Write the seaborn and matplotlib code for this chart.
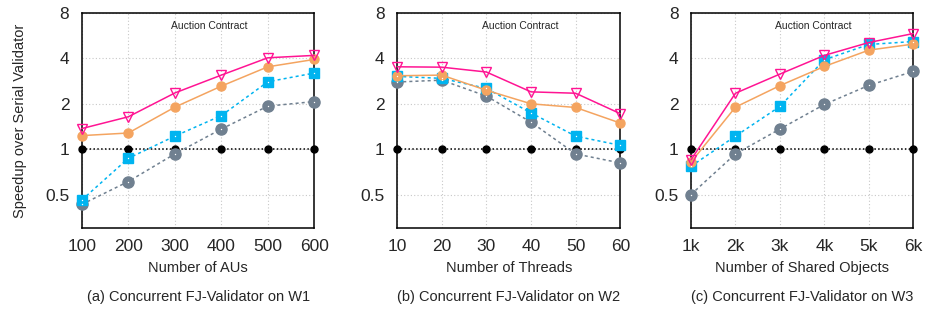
import matplotlib
matplotlib.use("Agg")
import matplotlib.pyplot as plt
import seaborn as sns
import pandas as pd
from matplotlib.ticker import FixedLocator, NullLocator

# x categories of each panel
x_w1 = [100, 200, 300, 400, 500, 600]
x_w2 = [10, 20, 30, 40, 50, 60]
x_w3 = [1, 2, 3, 4, 5, 6]
x_w3_labels = ["1k", "2k", "3k", "4k", "5k", "6k"]

# speedup values (log2 y axis)
pink_w1 = [1.37, 1.64, 2.36, 3.10, 4.04, 4.19]
orange_w1 = [1.23, 1.28, 1.90, 2.62, 3.52, 3.94]
blue_w1 = [0.46, 0.87, 1.22, 1.67, 2.80, 3.20]
gray_w1 = [0.43, 0.61, 0.93, 1.36, 1.93, 2.07]

pink_w2 = [3.52, 3.50, 3.25, 2.40, 2.35, 1.72]
orange_w2 = [3.07, 3.10, 2.46, 2.00, 1.89, 1.49]
blue_w2 = [3.04, 2.95, 2.53, 1.74, 1.22, 1.06]
gray_w2 = [2.79, 2.87, 2.25, 1.51, 0.93, 0.81]

pink_w3 = [0.85, 2.35, 3.15, 4.19, 5.10, 5.85]
orange_w3 = [0.82, 1.90, 2.64, 3.54, 4.54, 4.98]
blue_w3 = [0.77, 1.22, 1.92, 3.92, 4.95, 5.18]
gray_w3 = [0.50, 0.93, 1.36, 1.98, 2.65, 3.28]

serial = [1, 1, 1, 1, 1, 1]

sns.set_style("white")
plt.rcParams['font.family'] = ['Liberation Sans', 'DejaVu Sans']

fig = plt.figure(figsize=(9.3, 3.11), dpi=100)
axes = [fig.add_axes([0.088, 0.267, 0.250, 0.691]),
        fig.add_axes([0.427, 0.267, 0.240, 0.691]),
        fig.add_axes([0.743, 0.267, 0.239, 0.691])]

panels = [
    (x_w1, [str(v) for v in x_w1], pink_w1, orange_w1, blue_w1, gray_w1, "Number of AUs", "(a) Concurrent FJ-Validator on W1"),
    (x_w2, [str(v) for v in x_w2], pink_w2, orange_w2, blue_w2, gray_w2, "Number of Threads", "(b) Concurrent FJ-Validator on W2"),
    (x_w3, x_w3_labels, pink_w3, orange_w3, blue_w3, gray_w3, "Number of Shared Objects", "(c) Concurrent FJ-Validator on W3"),
]

for ax, (xs, xlabels, pink, orange, blue, gray, xlabel, caption) in zip(axes, panels):
    # series: (values, color, marker, linestyle, size, facecolor, center dot)
    series = [
        (serial, "black", "o", (0, (1, 1.5)), 5, "black", False),
        (gray, "#708090", "o", (0, (2, 2)), 8, "#708090", True),
        (blue, "#00B4F0", "s", (0, (2, 2)), 7, "#00B4F0", True),
        (orange, "#F4A460", "o", "-", 6.5, "#F4A460", False),
        (pink, "#FF1493", "v", "-", 7.5, "none", False),
    ]
    for vals, col, mk, ls, ms, fc, dot in series:
        df = pd.DataFrame({"x": xs, "y": vals})
        sns.lineplot(data=df, x="x", y="y", ax=ax, color=col, marker=mk,
                     linestyle=ls, linewidth=1.1, markersize=ms,
                     markerfacecolor=fc, markeredgecolor=col,
                     markeredgewidth=1.0, clip_on=False, zorder=3)
        if dot:
            # small white center dot like the gnuplot point style
            ax.scatter(xs, vals, s=1, color="white", linewidths=0,
                       zorder=4, clip_on=False)

    ax.set_yscale("log", base=2)
    ax.set_ylim(0.3, 8)
    ax.set_xlim(xs[0], xs[-1])
    ax.yaxis.set_major_locator(FixedLocator([0.5, 1, 2, 4, 8]))
    ax.yaxis.set_minor_locator(NullLocator())
    ax.set_yticklabels(["0.5", "1", "2", "4", "8"])
    ax.set_xticks(xs)
    ax.set_xticklabels(xlabels)
    ax.tick_params(axis="both", direction="in", length=3, width=0.8,
                   labelsize=12.5, top=False, right=False)
    ax.tick_params(axis="y", pad=9)
    ax.tick_params(axis="x", pad=8)
    ax.grid(True, color="#c8c8c8", linestyle=(0, (1, 2)), linewidth=0.8)
    for sp in ax.spines.values():
        sp.set_color("black")
        sp.set_linewidth(1.1)
    ax.set_xlabel(xlabel, fontsize=10.5, labelpad=5)
    ax.set_ylabel("")
    ax.text(0.55, 0.94, "Auction Contract", transform=ax.transAxes,
            ha="center", va="center", fontsize=7.5)
    pos = ax.get_position()
    fig.text(pos.x0 + pos.width / 2, 0.045, caption, ha="center",
             va="center", fontsize=10.5)

axes[0].set_ylabel("Speedup over Serial Validator", fontsize=10.5, labelpad=13)

fig.savefig("out.png", dpi=100)
